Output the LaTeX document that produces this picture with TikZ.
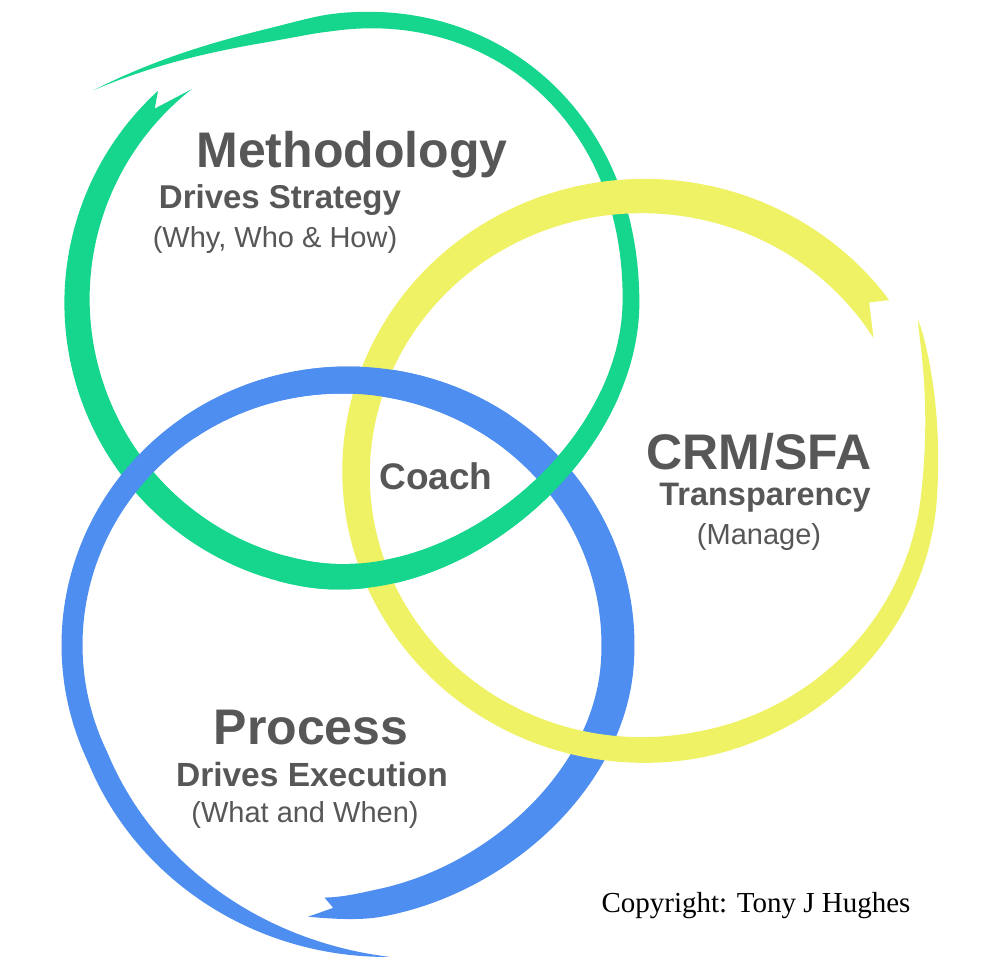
\documentclass[tikz,border=0pt]{standalone}
\usepackage{fontspec}
\setmainfont{Liberation Sans}
\newfontfamily\serifjh{Liberation Serif}
\definecolor{gcol}{HTML}{15D68C}
\definecolor{bcol}{HTML}{4D8EF0}
\definecolor{ycol}{HTML}{F0F266}
\definecolor{txtgray}{HTML}{575757}
\tikzset{
  declare function={
    bq(\u)=max(0,1-(\u)*(\u))*max(0,1-(\u)*(\u));
    gtx(\a)=max(0,(-100-(\a))/41);
    gty(\a)=min(1,max(0,(-95-(\a))/46));
    gD(\a)=10*bq(((\a)+55)/55)-12*bq(((\a)-50)/50)+58*gtx(\a)*gtx(\a);
    gW(\a)=(21+6*cos((\a)-135))*(1-gty(\a));
    gX(\a,\s)=354+(277+gD(\a)+(\s)*gW(\a)/2)*cos(\a);
    gY(\a,\s)=301+(277+gD(\a)+(\s)*gW(\a)/2)*sin(\a);
    btx(\a)=min(1,max(0,(-205-(\a))/73));
    bD(\a)=-10*bq(((\a)-55)/50)+50*btx(\a)*(0.4+0.6*btx(\a));
    bW(\a)=(27+6*cos(\a))*(1-btx(\a)*btx(\a))*(1-0.25*bq(((\a)-97.5)/15));
    bX(\a,\s)=345+(273+bD(\a)+(\s)*bW(\a)/2)*cos(\a);
    bY(\a,\s)=645+(265+bD(\a)+(\s)*bW(\a)/2)*sin(\a);
    ytx(\a)=max(0,(-355-(\a))/34.8);
    ytz(\a)=min(1,max(0,(-280-(\a))/109.8));
    yD(\a)=30*ytx(\a)*ytx(\a);
    yW(\a)=(30+5*cos((\a)+60))*pow(max(1-ytz(\a),0.0001),0.6);
    yX(\a,\s)=643+(287+yD(\a)+(\s)*yW(\a)/2)*cos(\a);
    yY(\a,\s)=473+(277+yD(\a)+(\s)*yW(\a)/2)*sin(\a);
  },
  txt/.style={text=txtgray, inner sep=0pt, anchor=base},
}
% #1 ring prefix, #2 from, #3 to, #4 samples
\newcommand\ringseg[4]{%
  \fill[#1col] plot[domain=#2:#3,samples=#4,variable=\t] ({#1X(\t,1)},{#1Y(\t,1)})
    -- plot[domain=#3:#2,samples=#4,variable=\t] ({#1X(\t,-1)},{#1Y(\t,-1)}) -- cycle;}
\begin{document}
\begin{tikzpicture}[x=1pt,y=-1pt]
\useasboundingbox (0,0) rectangle (1000,978);
\fill[white] (0,0) rectangle (1000,978);
% green ring (Methodology)
\fill[gcol] plot[domain=227:-141,samples=260,variable=\t] ({gX(\t,1)},{gY(\t,1)})
  -- plot[domain=-141:232.5,samples=260,variable=\t] ({gX(\t,-1)},{gY(\t,-1)})
  -- ({gX(224,0)},{gY(224,0)}) -- cycle;
% blue ring (Process)
\fill[bcol] plot[domain=97.5:-278,samples=260,variable=\t] ({bX(\t,1)},{bY(\t,1)})
  -- plot[domain=-278:94.5,samples=260,variable=\t] ({bX(\t,-1)},{bY(\t,-1)})
  -- ({bX(92.5,0)},{bY(92.5,0)}) -- cycle;
% yellow ring (CRM/SFA)
\fill[ycol] plot[domain=-36:-389.8,samples=260,variable=\t] ({yX(\t,1)},{yY(\t,1)})
  -- plot[domain=-389.8:-31.3,samples=260,variable=\t] ({yX(\t,-1)},{yY(\t,-1)})
  -- ({yX(-38,0)},{yY(-38,0)}) -- cycle;
% weaving: pieces laid back on top
\ringseg{g}{20}{105}{60}
\ringseg{b}{-125}{-55}{50}
% texts
\node[txt, font=\bfseries\fontsize{50}{50}\selectfont] (meth) at (352,167) {Methodology};
\node[txt, font=\bfseries\fontsize{33}{33}\selectfont] (strat) at (280,208) {Drives Strategy};
\node[txt, font=\fontsize{29}{29}\selectfont] (why) at (275,247) {(Why, Who \& How)};
\node[txt, font=\bfseries\fontsize{50}{50}\selectfont] (crm) at (759,469) {CRM/SFA};
\node[txt, font=\bfseries\fontsize{32.5}{33}\selectfont] (transp) at (765,505) {Transparency};
\node[txt, font=\fontsize{29}{29}\selectfont] (manage) at (759,544) {(Manage)};
\node[txt, font=\bfseries\fontsize{37}{37}\selectfont] (coach) at (436,489) {Coach};
\node[txt, font=\bfseries\fontsize{50}{50}\selectfont] (proc) at (311,744) {Process};
\node[txt, font=\bfseries\fontsize{33.5}{34}\selectfont] (exec) at (312,786) {Drives Execution};
\node[txt, font=\fontsize{29}{29}\selectfont] (what) at (305,822) {(What and When)};
\node[inner sep=0pt, anchor=base, text=black, font=\serifjh\fontsize{29}{29}\selectfont] (copy) at (756,912) {Copyright: Tony J Hughes};
\end{tikzpicture}
\end{document}
